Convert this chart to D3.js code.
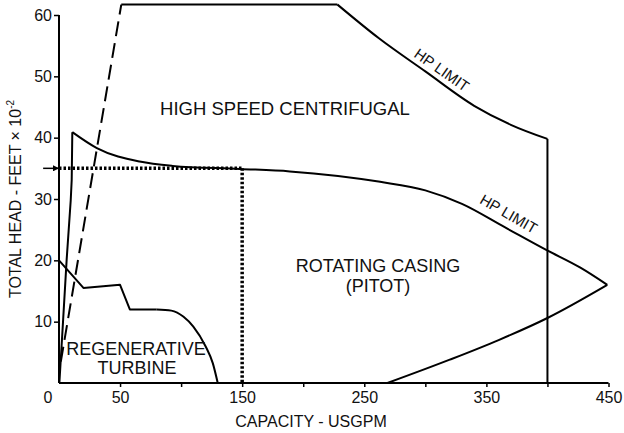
<!DOCTYPE html>
<html>
<head>
<meta charset="utf-8">
<script src="https://cdn.jsdelivr.net/npm/d3@7"></script>
<style>
  html, body { margin: 0; padding: 0; background: #fff; }
  svg { display: block; font-family: "Liberation Sans", Arial, Helvetica, sans-serif; }
</style>
</head>
<body>
<svg id="chart" width="624" height="433"></svg>
<script>
// ---- data ----
const xTickValues = [50, 100, 150, 200, 250, 300, 350, 400, 450];
const xTickLabels = [0, 50, 150, 250, 350, 450];
const yTickValues = [10, 20, 30, 40, 50, 60];

// High speed centrifugal envelope
const hsDashed = [[1.5, 3.5], [51, 61.7]];
const hsTop = [[51, 61.7], [228, 61.7]];
const hsHpLimit = [[228, 61.7], [262, 56.2], [300, 50.8], [340, 45.2], [370, 42.1], [400, 39.8]];
const hsRight = [[400, 39.8], [400, 0]];

// Rotating casing (pitot) envelope
const rcLeft = [[0.3, 0], [3.3, 10], [6.3, 20.2], [9.6, 29.8], [10.4, 33.1], [10.9, 40.9]];
const rcTop = [[10.9, 40.9], [31, 38.3], [66, 36.1], [93, 35.4], [148, 34.9], [189, 34.5], [263, 32.8], [300, 31.4], [330, 29.2], [365, 25.4], [399, 21.7], [427, 18.8], [449, 16]];
const rcBottom = [[269, 0], [320, 3.8], [360, 7.0], [400, 10.6], [449, 16]];

// Regenerative turbine envelope
const rtSteps = [[0, 20], [20, 15.5], [50, 16], [58, 12], [80, 12]];
const rtCurve = [[80, 12], [92, 11.8], [102, 10.8], [110, 9.2], [120, 6], [126, 3.2], [130, 0]];

// Operating point example
const opPoint = { q: 150, h: 35 };
const arrowStart = -13;

// ---- layout ----
const svg = d3.select("#chart");
const x = d3.scaleLinear().domain([0, 450]).range([59, 608.5]);
const y = d3.scaleLinear().domain([0, 60]).range([383, 15]);

const line = d3.line().x(d => x(d[0])).y(d => y(d[1]));
const smooth = d3.line().x(d => x(d[0])).y(d => y(d[1])).curve(d3.curveMonotoneX);

// axes
const xAxis = d3.axisBottom(x).tickValues(xTickValues).tickSize(4).tickPadding(5)
  .tickFormat(d => xTickLabels.includes(d) ? d : "");
const gx = svg.append("g").attr("transform", `translate(0,${y(0)})`).call(xAxis);
gx.select(".domain").attr("d", `M${x(0)},0H${x(450)}`);
gx.append("text").attr("x", x(0) - 11).attr("y", 9).attr("dy", "0.71em")
  .attr("text-anchor", "middle").attr("fill", "#000").text(xTickLabels[0]);

const yAxis = d3.axisLeft(y).tickValues(yTickValues).tickSize(5).tickPadding(2);
const gy = svg.append("g").attr("transform", `translate(${x(0)},0)`).call(yAxis);
gy.select(".domain").attr("d", `M0,${y(0)}V${y(60)}`);

svg.selectAll(".domain").attr("stroke", "#000").attr("stroke-width", 2);
svg.selectAll(".tick line").attr("stroke", "#000").attr("stroke-width", 1.5);
svg.selectAll(".tick text, g text").attr("font-size", 16).attr("font-family", "Liberation Sans, Arial, sans-serif").attr("fill", "#111");

// axis titles
svg.append("text").attr("x", 311).attr("y", 427).attr("text-anchor", "middle")
  .attr("font-size", 16).attr("fill", "#111").text("CAPACITY - USGPM");
const yt = svg.append("text").attr("transform", "translate(21,199) rotate(-90)")
  .attr("text-anchor", "middle").attr("font-size", 16).attr("fill", "#111");
yt.append("tspan").text("TOTAL HEAD - FEET \u00d7 10");
yt.append("tspan").attr("font-size", 10).attr("dy", -7).text("-2");

// curves
const curves = svg.append("g").attr("fill", "none").attr("stroke", "#000").attr("stroke-width", 2).attr("stroke-linejoin", "round");
curves.append("path").attr("d", line(hsDashed)).attr("stroke-dasharray", "15,7");
curves.append("path").attr("d", line(hsTop));
curves.append("path").attr("d", smooth(hsHpLimit));
curves.append("path").attr("d", line(hsRight));
curves.append("path").attr("d", line(rcLeft));
curves.append("path").attr("d", smooth(rcTop));
curves.append("path").attr("d", smooth(rcBottom));
curves.append("path").attr("d", line(rtSteps));
curves.append("path").attr("d", smooth(rtCurve));

// dotted operating lines
const dots = svg.append("g").attr("fill", "none").attr("stroke", "#000").attr("stroke-width", 3.5).attr("stroke-dasharray", "2.5,2");
dots.append("path").attr("d", line([[0, opPoint.h], [opPoint.q, opPoint.h]]));
dots.append("path").attr("d", line([[opPoint.q, opPoint.h], [opPoint.q, 0]]));

// arrow
svg.append("defs").append("marker").attr("id", "arr").attr("viewBox", "0 0 10 10")
  .attr("refX", 10).attr("refY", 5).attr("markerWidth", 9).attr("markerHeight", 6)
  .attr("markerUnits", "userSpaceOnUse").attr("orient", "auto")
  .append("path").attr("d", "M0,0L10,5L0,10z").attr("fill", "#000");
svg.append("line").attr("x1", x(arrowStart)).attr("x2", x(0)).attr("y1", y(opPoint.h)).attr("y2", y(opPoint.h))
  .attr("stroke", "#000").attr("stroke-width", 1.5).attr("marker-end", "url(#arr)");

// region labels
const lab = svg.append("g").attr("fill", "#111").attr("text-anchor", "middle");
lab.append("text").attr("x", 285).attr("y", 115).attr("font-size", 18.5).text("HIGH SPEED CENTRIFUGAL");
lab.append("text").attr("x", 378).attr("y", 272).attr("font-size", 18).text("ROTATING CASING");
lab.append("text").attr("x", 378).attr("y", 292).attr("font-size", 18).text("(PITOT)");
lab.append("text").attr("x", 136).attr("y", 355).attr("font-size", 18).text("REGENERATIVE");
lab.append("text").attr("x", 137).attr("y", 374).attr("font-size", 18).text("TURBINE");
lab.append("text").attr("transform", "translate(441,71) rotate(35)").attr("dominant-baseline", "middle")
  .attr("font-size", 15).text("HP LIMIT");
lab.append("text").attr("transform", "translate(508,215) rotate(30)").attr("dominant-baseline", "middle")
  .attr("font-size", 15).text("HP LIMIT");
</script>
</body>
</html>
